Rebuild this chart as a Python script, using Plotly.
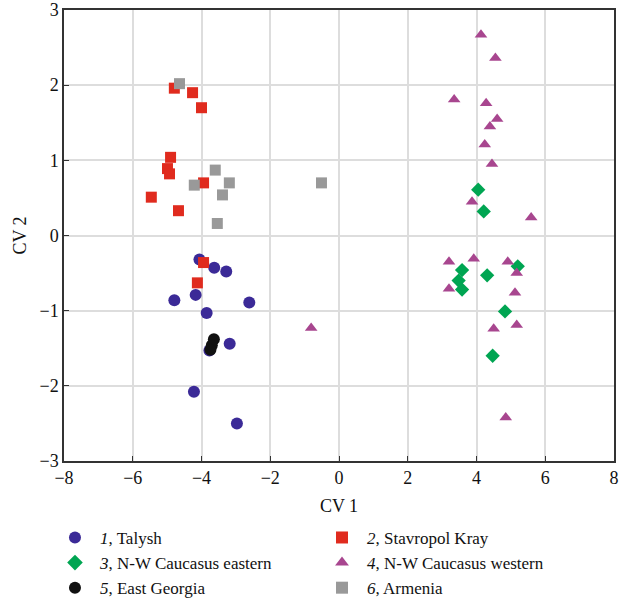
import plotly.graph_objects as go

# Data (CV1, CV2)
talysh_x = [-4.06, -3.63, -3.28, -4.79, -4.17, -2.61, -3.85, -3.18, -3.77, -4.22, -2.97]
talysh_y = [-0.32, -0.43, -0.48, -0.86, -0.79, -0.89, -1.03, -1.44, -1.53, -2.08, -2.50]

stav_x = [-4.79, -4.26, -4.00, -4.90, -4.99, -4.93, -3.94, -5.46, -4.67, -3.94, -4.12]
stav_y = [1.96, 1.90, 1.70, 1.04, 0.89, 0.82, 0.70, 0.51, 0.33, -0.36, -0.63]

nwe_x = [4.05, 4.21, 5.20, 3.58, 4.31, 3.48, 3.58, 4.83, 4.47]
nwe_y = [0.61, 0.32, -0.41, -0.46, -0.53, -0.60, -0.72, -1.01, -1.60]

nww_x = [4.13, 4.55, 3.35, 4.28, 4.60, 4.39, 4.24, 4.45, 3.87, 5.59,
         3.20, 3.92, 4.91, 5.17, 3.20, 5.12, 4.50, 5.17, 4.85, -0.81]
nww_y = [2.67, 2.36, 1.81, 1.76, 1.55, 1.45, 1.21, 0.95, 0.45, 0.24,
         -0.35, -0.31, -0.35, -0.50, -0.71, -0.76, -1.24, -1.19, -2.42, -1.23]

geo_x = [-3.64, -3.70, -3.74]
geo_y = [-1.38, -1.46, -1.52]

arm_x = [-4.64, -3.60, -4.21, -3.19, -3.39, -3.54, -0.51]
arm_y = [2.02, 0.87, 0.67, 0.70, 0.54, 0.16, 0.70]

x_ticks = [-8, -6, -4, -2, 0, 2, 4, 6, 8]
y_ticks = [-3, -2, -1, 0, 1, 2, 3]

series = [
    ("<i>1</i>, Talysh", talysh_x, talysh_y, "circle", "#3b2a97", 12, "legend"),
    ("<i>2</i>, Stavropol Kray", stav_x, stav_y, "square", "#e02b1e", 11, "legend2"),
    ("<i>3</i>, N-W Caucasus eastern", nwe_x, nwe_y, "diamond", "#00a552", 11, "legend"),
    ("<i>4</i>, N-W Caucasus western", nww_x, nww_y, "triangle-up", "#a8468f", 11, "legend2"),
    ("<i>5</i>, East Georgia", geo_x, geo_y, "circle", "#111111", 12, "legend"),
    ("<i>6</i>, Armenia", arm_x, arm_y, "square", "#999999", 11, "legend2"),
]

fig = go.Figure()
for name, xs, ys, sym, col, size, lg in series:
    fig.add_trace(go.Scatter(
        x=xs, y=ys, mode="markers", name=name, legend=lg,
        marker=dict(symbol=sym, color=col, size=size, line=dict(width=0)),
    ))

font = dict(family="Liberation Serif, Times New Roman, serif", size=18, color="#111")
lfont = dict(family="Liberation Serif, Times New Roman, serif", size=17, color="#111")

fig.update_layout(
    width=632, height=599,
    margin=dict(l=64, r=18, t=10, b=138),
    paper_bgcolor="white", plot_bgcolor="white",
    font=font,
    showlegend=True,
    legend=dict(
        orientation="v", x=-0.0255, xanchor="left",
        yref="container", y=0.132, yanchor="top", itemwidth=40,
        font=lfont, itemsizing="constant", tracegroupgap=0, bgcolor="rgba(0,0,0,0)",
    ),
    legend2=dict(
        orientation="v", x=0.46, xanchor="left",
        yref="container", y=0.132, yanchor="top", itemwidth=40,
        font=lfont, itemsizing="constant", tracegroupgap=0, bgcolor="rgba(0,0,0,0)",
    ),
    xaxis=dict(
        range=[-8, 8], tickvals=x_ticks, showgrid=True, gridcolor="#dddddd", gridwidth=1.5,
        zeroline=False, showline=True, linecolor="#333", linewidth=1.5, mirror=True,
        ticks="inside", ticklen=5, tickcolor="#333", automargin=False,
        title=dict(text="CV 1", standoff=12, font=font),
    ),
    yaxis=dict(
        range=[-3, 3], tickvals=y_ticks, showgrid=True, gridcolor="#dddddd", gridwidth=1.5,
        zeroline=False, showline=True, linecolor="#333", linewidth=1.5, mirror=True,
        ticks="inside", ticklen=5, tickcolor="#333", automargin=False,
        title=dict(text="CV 2", standoff=8, font=font),
    ),
)

fig.write_html("out.html", config={"displayModeBar": False},
               post_script="document.body.style.margin='0';")
